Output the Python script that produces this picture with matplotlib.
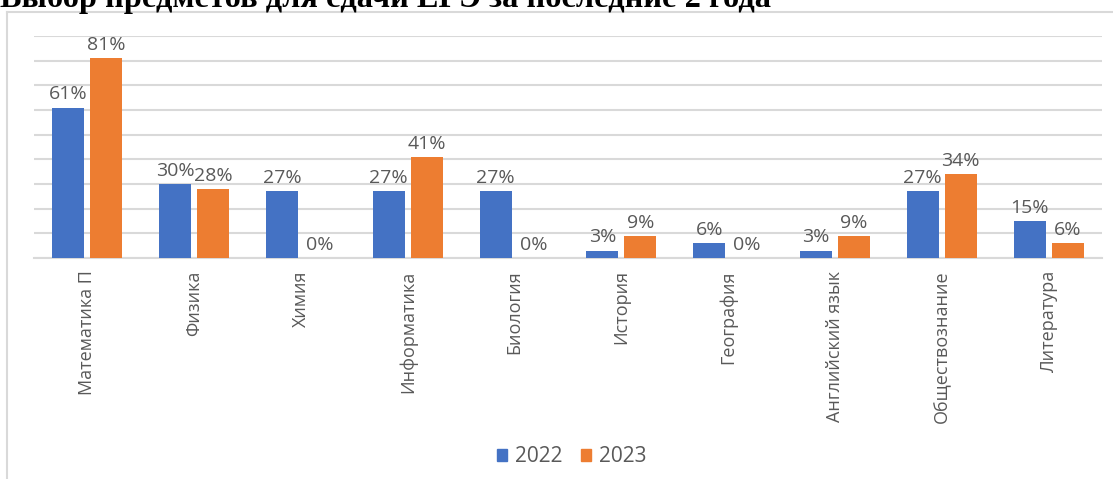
import matplotlib
matplotlib.use("Agg")
import matplotlib.pyplot as plt
import numpy as np
from matplotlib.patches import Rectangle
from matplotlib.lines import Line2D

categories = ["Математика П", "Физика", "Химия", "Информатика", "Биология",
              "История", "География", "Английский язык", "Обществознание", "Литература"]
values_2022 = [61, 30, 27, 27, 27, 3, 6, 3, 27, 15]
values_2023 = [81, 28, 0, 41, 0, 9, 0, 9, 34, 6]
series_names = ["2022", "2023"]
title = "Выбор предметов для сдачи ЕГЭ за последние 2 года"

W, H = 1113, 479
fig = plt.figure(figsize=(W / 100, H / 100), dpi=100)
fig.patch.set_facecolor("white")

# chart frame (gray border)
frame_x0 = 6.5 / W
frame_y1 = 1 - 12 / H
fig.add_artist(Line2D([frame_x0, 1.0], [frame_y1, frame_y1], transform=fig.transFigure,
                      color="#D9D9D9", lw=1.5))
fig.add_artist(Line2D([frame_x0, frame_x0], [0, frame_y1], transform=fig.transFigure,
                      color="#D9D9D9", lw=1.5))

# title (clipped at top as in the screenshot)
fig.text(0.0, 1 - 7.5 / H, title, fontsize=23.3, fontweight="bold",
         family="Liberation Serif", va="baseline", ha="left", color="black")

left, right = 34 / W, 1102 / W
bottom = (H - 258) / H
top = (H - 36) / H
ax = fig.add_axes([left, bottom, right - left, top - bottom])

n = len(categories)
x = np.arange(n)
bw = 0.30
gap = 0.056
c1, c2 = "#4472C4", "#ED7D31"
ax.bar(x - (bw + gap) / 2, values_2022, bw, color=c1, zorder=3, label=series_names[0])
ax.bar(x + (bw + gap) / 2, values_2023, bw, color=c2, zorder=3, label=series_names[1])

ax.set_xlim(-0.5, n - 0.5)
ax.set_ylim(0, 90)
ax.set_yticks(np.arange(0, 91, 10))
ax.yaxis.grid(True, color="#D9D9D9", lw=1.5, zorder=0)
ax.tick_params(axis="y", left=False, labelleft=False)
for s in ["top", "right", "left"]:
    ax.spines[s].set_visible(False)
ax.spines["bottom"].set_color("#D9D9D9")
ax.spines["bottom"].set_linewidth(1.5)

ax.set_xticks(x)
ax.set_xticklabels(categories, rotation=90, fontsize=13, color="#595959", family="Open Sans")
ax.tick_params(axis="x", length=0, pad=9)

lab_kw = dict(ha="center", va="bottom", fontsize=14, color="#595959", family="Open Sans")
for i in range(n):
    ax.annotate(f"{values_2022[i]}%", (x[i] - (bw + gap) / 2, values_2022[i]),
                xytext=(0, 3), textcoords="offset points", **lab_kw)
    ax.annotate(f"{values_2023[i]}%", (x[i] + (bw + gap) / 2, values_2023[i]),
                xytext=(0, 3), textcoords="offset points", **lab_kw)

handles = [Rectangle((0, 0), 1, 1, color=c1), Rectangle((0, 0), 1, 1, color=c2)]
fig.legend(handles, series_names, loc="center", bbox_to_anchor=(572 / W, 1 - 457 / H),
           ncol=2, frameon=False, handlelength=0.45, handleheight=0.45,
           handletextpad=0.4, columnspacing=0.9,
           prop={"family": "Open Sans", "size": 15}, labelcolor="#595959")

fig.savefig("out.png", dpi=100)
